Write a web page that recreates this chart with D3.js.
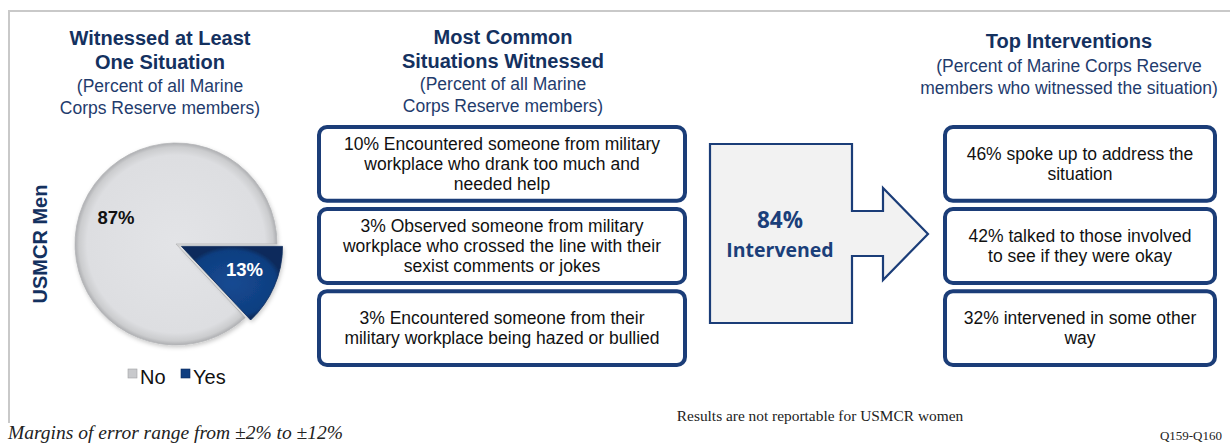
<!DOCTYPE html>
<html><head><meta charset="utf-8">
<script src="https://cdn.jsdelivr.net/npm/d3@7"></script>
<style>body{margin:0;background:#fff}svg{display:block}</style>
</head><body>
<svg id="c" width="1230" height="445"></svg>
<script>
// ---- data ----
const categories = ["No", "Yes"];
const values = [87, 13];
const groupLabel = "USMCR Men";
const situations = [
  ["10% Encountered someone from military", "workplace who drank too much and", "needed help"],
  ["3% Observed someone from military", "workplace who crossed the line with their", "sexist comments or jokes"],
  ["3% Encountered someone from their", "military workplace being hazed or bullied"]
];
const intervenedPct = 84;
const interventions = [
  ["46% spoke up to address the", "situation"],
  ["42% talked to those involved", "to see if they were okay"],
  ["32% intervened in some other", "way"]
];
const titles = {
  left: ["Witnessed at Least", "One Situation"],
  leftSub: ["(Percent of all Marine", "Corps Reserve members)"],
  mid: ["Most Common", "Situations Witnessed"],
  midSub: ["(Percent of all Marine", "Corps Reserve members)"],
  right: ["Top Interventions"],
  rightSub: ["(Percent of Marine Corps Reserve", "members who witnessed the situation)"]
};
const footLeft = "Margins of error range from \u00b12% to \u00b112%";
const footMid = "Results are not reportable for USMCR women";
const footRight = "Q159-Q160";

// ---- drawing ----
const svg = d3.select("#c");
const SANS = "'Liberation Sans', Arial, sans-serif";
const NAVY = "#14315f", SUBNAVY = "#1f3c6d", BORDER = "#1b3d78";

// frame
svg.append("path").attr("d", "M9,423 L9,11 L1230,11")
  .attr("fill", "none").attr("stroke", "#c9c9c9").attr("stroke-width", 2);

function textBlock(lines, x, y0, lh, size, weight, color, family) {
  const t = svg.append("text").attr("text-anchor", "middle")
    .attr("font-family", family || SANS).attr("font-size", size)
    .attr("font-weight", weight).attr("fill", color);
  lines.forEach((l, i) => t.append("tspan").attr("x", x).attr("y", y0 + i * lh).text(l));
  return t;
}

textBlock(titles.left, 160, 45, 24, 20, "bold", NAVY);
textBlock(titles.leftSub, 160, 92, 22, 17.5, "normal", SUBNAVY);
textBlock(titles.mid, 503, 44, 24, 20, "bold", NAVY);
textBlock(titles.midSub, 503, 90, 22, 17.5, "normal", SUBNAVY);
textBlock(titles.right, 1069, 48, 24, 20, "bold", NAVY);
textBlock(titles.rightSub, 1069, 72, 22, 17.5, "normal", SUBNAVY);

// vertical label
svg.append("text").attr("transform", "translate(47,244) rotate(-90)")
  .attr("text-anchor", "middle").attr("font-family", SANS).attr("font-size", 20)
  .attr("font-weight", "bold").attr("fill", NAVY).text(groupLabel);

// pie
const defs = svg.append("defs");
const gNo = defs.append("radialGradient").attr("id", "gNo");
gNo.append("stop").attr("offset", "0%").attr("stop-color", "#e3e4e7");
gNo.append("stop").attr("offset", "88%").attr("stop-color", "#dddee1");
gNo.append("stop").attr("offset", "96%").attr("stop-color", "#cbccce");
gNo.append("stop").attr("offset", "100%").attr("stop-color", "#aeafb2");
const gYes = defs.append("radialGradient").attr("id", "gYes");
gYes.append("stop").attr("offset", "0%").attr("stop-color", "#154a92");
gYes.append("stop").attr("offset", "88%").attr("stop-color", "#0f3e80");
gYes.append("stop").attr("offset", "100%").attr("stop-color", "#0a2b5c");
const sh = defs.append("filter").attr("id", "sh").attr("x", "-20%").attr("y", "-20%").attr("width", "140%").attr("height", "140%");
sh.append("feDropShadow").attr("dx", 1).attr("dy", 2).attr("stdDeviation", 2).attr("flood-color", "#000").attr("flood-opacity", 0.22);

const pieData = categories.map((c, i) => ({ cat: c, value: values[i] }));
const pie = d3.pie().value(d => d.value)
  .sort((a, b) => d3.ascending(a.value, b.value))
  .startAngle(Math.PI / 2).endAngle(Math.PI / 2 + 2 * Math.PI);
const R = 101;
const arc = d3.arc().innerRadius(0).outerRadius(R);
const fills = { No: "url(#gNo)", Yes: "url(#gYes)" };
const explode = { No: 0, Yes: 6 };
const pg = svg.append("g").attr("transform", "translate(176,244)");
const arcs = pie(pieData);
pg.selectAll("path").data(arcs).join("path")
  .attr("transform", d => {
    const a = (d.startAngle + d.endAngle) / 2, e = explode[d.data.cat];
    return `translate(${Math.sin(a) * e},${-Math.cos(a) * e})`;
  })
  .attr("d", arc).attr("fill", d => fills[d.data.cat])
  .attr("stroke", d => d.data.cat === "Yes" ? "#0a2b5c" : "#b5b6b9").attr("stroke-width", 0.8)
  .attr("filter", "url(#sh)");
const labelR = { No: 0.66, Yes: 0.70 };
pg.selectAll("text").data(arcs).join("text")
  .attr("transform", d => {
    const a = (d.startAngle + d.endAngle) / 2, e = explode[d.data.cat];
    if (d.data.cat === "No") return `translate(-60,-20)`;
    const r = R * labelR[d.data.cat] + e;
    return `translate(${Math.sin(a) * r - 2},${-Math.cos(a) * r + 2})`;
  })
  .attr("text-anchor", "middle").attr("font-family", SANS).attr("font-size", 18.5)
  .attr("font-weight", "bold").attr("fill", d => d.data.cat === "Yes" ? "#fff" : "#111")
  .text(d => d.value + "%");

// legend
const legX = d3.scaleOrdinal().domain(categories).range([128, 181]);
const leg = svg.append("g");
categories.forEach(c => {
  leg.append("rect").attr("x", legX(c)).attr("y", 369).attr("width", 9).attr("height", 9)
    .attr("fill", c === "Yes" ? "#0f3e80" : "#c8c9cc")
    .attr("stroke", c === "Yes" ? "#0a2b5c" : "#a0a1a4").attr("stroke-width", 0.6);
  leg.append("text").attr("x", legX(c) + 12).attr("y", 384).attr("font-family", SANS)
    .attr("font-size", 20).attr("fill", "#111").text(c);
});

// boxes
function boxes(list, x0, x1, yScale) {
  list.forEach((lines, i) => {
    const y = yScale(i), h = yScale.bandwidth();
    svg.append("rect").attr("x", x0).attr("y", y).attr("width", x1 - x0).attr("height", h)
      .attr("rx", 8).attr("fill", "#fff").attr("stroke", BORDER).attr("stroke-width", 4);
    const lh = 20;
    const y0 = y + h / 2 - (lines.length - 1) * lh / 2 + 6;
    textBlock(lines, (x0 + x1) / 2, y0, lh, 17.5, "normal", "#111");
  });
}
const yBox = d3.scaleBand().domain(d3.range(situations.length)).range([127, 365]).paddingInner(0.1);
boxes(situations, 319, 685, yBox);
const yBox2 = d3.scaleBand().domain(d3.range(interventions.length)).range([127, 365]).paddingInner(0.1);
boxes(interventions, 945, 1215, yBox2);

// arrow
const arrowPath = "M710,144 L852,144 L852,211 L883,211 L883,188 L928,234 L883,280 L883,256 L852,256 L852,323 L710,323 Z";
svg.append("path").attr("d", arrowPath).attr("fill", "#f2f2f2").attr("stroke", BORDER).attr("stroke-width", 2.2);
svg.append("text").attr("x", 780).attr("y", 228).attr("text-anchor", "middle")
  .attr("font-family", "'Open Sans', sans-serif").attr("font-weight", "bold").attr("font-size", 22.5)
  .attr("fill", "#1b3f7a").text(intervenedPct + "%");
svg.append("text").attr("x", 780).attr("y", 257).attr("text-anchor", "middle")
  .attr("font-family", "'Open Sans', sans-serif").attr("font-weight", "bold").attr("font-size", 19.5)
  .attr("fill", "#1b3f7a").text("Intervened");

// footers
const SERIF = "'Liberation Serif', 'Times New Roman', serif";
svg.append("text").attr("x", 8).attr("y", 439).attr("font-family", SERIF).attr("font-style", "italic")
  .attr("font-size", 19.5).attr("fill", "#222").text(footLeft);
svg.append("text").attr("x", 820).attr("y", 421).attr("text-anchor", "middle").attr("font-family", SERIF)
  .attr("font-size", 15.4).attr("fill", "#222").text(footMid);
svg.append("text").attr("x", 1222).attr("y", 440).attr("text-anchor", "end").attr("font-family", SERIF)
  .attr("font-size", 13).attr("fill", "#222").text(footRight);
</script>
</body></html>
